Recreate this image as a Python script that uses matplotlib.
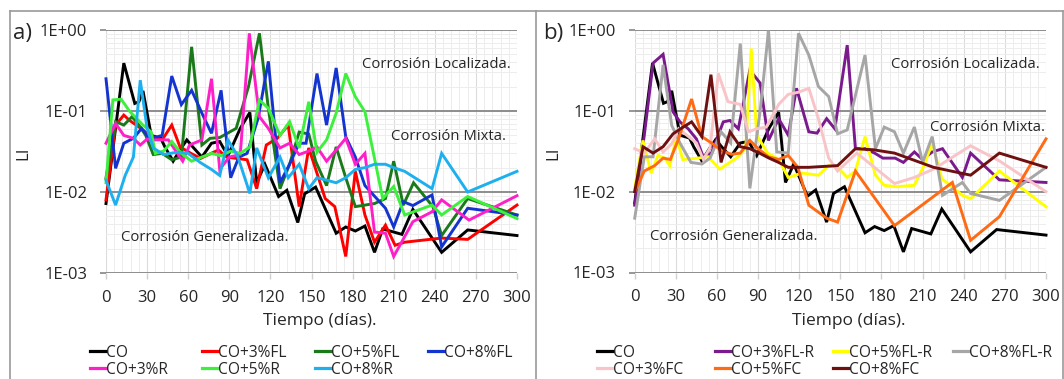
import numpy as np
import matplotlib
matplotlib.use("Agg")
import matplotlib.pyplot as plt
from matplotlib.ticker import FixedLocator, MultipleLocator, LogLocator, FuncFormatter, NullFormatter
from matplotlib.lines import Line2D

plt.rcParams['font.family'] = ['Open Sans', 'DejaVu Sans']

# ---------------- panel a) series ----------------
co_days = [0, 13, 21, 24, 27, 33, 40, 43, 49, 54, 59, 64, 70, 77, 83, 89, 98, 105, 110, 116,
           126, 132, 140, 145, 153, 168, 175, 182, 189, 196, 202, 216, 224, 245, 264, 300]
co_li = [0.0072, 0.39, 0.124, 0.13, 0.177, 0.05, 0.046, 0.036, 0.024, 0.033, 0.044, 0.035, 0.027,
         0.04, 0.042, 0.028, 0.061, 0.096, 0.013, 0.022, 0.0088, 0.0105, 0.0042, 0.0095, 0.0115,
         0.0031, 0.0037, 0.0033, 0.0038, 0.0018, 0.0035, 0.003, 0.0061, 0.0018, 0.0034, 0.0029]

fl3_days = [0, 7, 13, 17, 26, 32, 41, 48, 54, 62, 69, 82, 88, 95, 103, 110, 117, 125, 133, 141,
            148, 160, 167, 175, 182, 189, 196, 204, 211, 218, 245, 264, 300]
fl3_li = [0.008, 0.067, 0.089, 0.077, 0.06, 0.05, 0.044, 0.067, 0.036, 0.03, 0.026, 0.033, 0.027,
          0.026, 0.025, 0.011, 0.038, 0.046, 0.067, 0.0066, 0.035, 0.0083, 0.0066, 0.0016, 0.018,
          0.0052, 0.0024, 0.0039, 0.0022, 0.0024, 0.0027, 0.0026, 0.0069]

fl5_days = [0, 7, 13, 19, 24, 29, 34.5, 41, 48, 55, 62.5, 70, 76, 83, 95, 104, 112, 118.5, 127,
            134, 141, 148, 153, 161, 168, 175, 182, 196, 204, 210, 217, 224.5, 238.6, 245, 264, 300]
fl5_li = [0.015, 0.074, 0.067, 0.085, 0.067, 0.05, 0.029, 0.03, 0.025, 0.027, 0.62, 0.038, 0.046,
          0.047, 0.061, 0.2, 0.91, 0.108, 0.011, 0.022, 0.055, 0.052, 0.024, 0.012, 0.036, 0.015,
          0.0066, 0.0072, 0.0083, 0.024, 0.0069, 0.013, 0.0066, 0.0029, 0.0083, 0.0052]

fl8_days = [0, 7, 13, 20, 26, 32, 41, 48, 55, 62.5, 70, 77, 84, 91, 97, 103, 111, 118.5, 127, 134,
            141, 146, 154, 161, 168, 175, 182, 189, 204, 210, 217, 224, 238, 245, 264, 300]
fl8_li = [0.25, 0.0196, 0.04, 0.046, 0.061, 0.045, 0.05, 0.27, 0.12, 0.18, 0.094, 0.053, 0.18,
          0.015, 0.027, 0.03, 0.081, 0.41, 0.013, 0.022, 0.04, 0.04, 0.29, 0.067, 0.34, 0.048,
          0.027, 0.012, 0.0063, 0.0037, 0.0076, 0.0068, 0.0092, 0.0021, 0.0063, 0.0052]

r3_days = [0, 7, 13, 20, 25, 30, 34.5, 45.5, 56, 61, 70, 77, 83, 90, 98, 104.6, 112, 118.5, 127,
           134, 141, 148, 154, 161, 168, 175, 182, 189, 196, 204, 210, 224, 238, 245, 265, 300]
r3_li = [0.04, 0.07, 0.05, 0.046, 0.038, 0.045, 0.044, 0.044, 0.024, 0.038, 0.044, 0.25, 0.019,
         0.027, 0.029, 0.91, 0.085, 0.061, 0.035, 0.04, 0.029, 0.032, 0.036, 0.024, 0.033, 0.046,
         0.022, 0.030, 0.0032, 0.0031, 0.0016, 0.0043, 0.0057, 0.008, 0.0045, 0.009]

r5_days = [0, 5, 11, 17.5, 27, 33, 36, 42, 48, 55, 62.5, 70, 77, 84, 91, 98, 105, 112, 118.5, 127,
           134, 141, 148, 154, 161, 168, 175, 182, 189, 202, 210, 218, 238, 245, 264, 300]
r5_li = [0.013, 0.137, 0.14, 0.098, 0.067, 0.055, 0.03, 0.032, 0.042, 0.03, 0.024, 0.027, 0.030,
         0.028, 0.032, 0.03, 0.036, 0.137, 0.108, 0.05, 0.074, 0.035, 0.13, 0.031, 0.044, 0.094,
         0.29, 0.15, 0.098, 0.0083, 0.0117, 0.0052, 0.0069, 0.0052, 0.0088, 0.0047]

r8_days = [0, 7, 14, 20, 25, 30, 34.5, 42, 52, 60, 69, 77, 83, 89, 96, 105, 110, 118.5, 127, 133,
           141, 148, 154, 161, 168, 175, 182, 189, 196, 204, 210, 218, 238, 245, 264, 300]
r8_li = [0.014, 0.0069, 0.016, 0.027, 0.24, 0.061, 0.035, 0.029, 0.031, 0.03, 0.023, 0.019, 0.016,
         0.044, 0.028, 0.0096, 0.035, 0.015, 0.027, 0.015, 0.022, 0.011, 0.015, 0.014, 0.013,
         0.015, 0.019, 0.02, 0.022, 0.022, 0.02, 0.018, 0.011, 0.030, 0.010, 0.018]

# ---------------- panel b) series ----------------
flr3_days = [0, 7, 13.4, 20.7, 28, 33, 39, 45, 50, 56, 64.6, 69.5, 75.6, 84, 91.5, 97.6, 105, 112,
             118, 127, 133, 140, 146, 155, 161, 168, 175, 181, 190, 196, 204, 210, 217, 224.5, 239,
             245, 266, 300]
flr3_li = [0.0068, 0.05, 0.39, 0.50, 0.097, 0.073, 0.06, 0.045, 0.027, 0.03, 0.073, 0.076, 0.06,
           0.32, 0.22, 0.043, 0.08, 0.05, 0.19, 0.055, 0.053, 0.08, 0.06, 0.65, 0.034, 0.034, 0.03,
           0.026, 0.026, 0.023, 0.031, 0.025, 0.031, 0.034, 0.015, 0.03, 0.014, 0.013]

flr5_days = [0, 6, 12, 17, 22, 25.6, 30.5, 35, 46, 53.6, 62, 75.6, 81, 85, 89, 97, 105, 112, 122,
             134, 141.5, 148, 155, 161, 168, 175.6, 182, 190.5, 204, 211, 217, 224, 239, 245, 266, 300]
flr5_li = [0.011, 0.043, 0.017, 0.028, 0.026, 0.021, 0.048, 0.025, 0.026, 0.027, 0.019, 0.027,
           0.035, 0.59, 0.05, 0.03, 0.025, 0.015, 0.017, 0.016, 0.021, 0.02, 0.015, 0.018, 0.048,
           0.016, 0.012, 0.0115, 0.012, 0.021, 0.04, 0.0145, 0.009, 0.0082, 0.018, 0.0065]

flr8_days = [0, 7, 13.4, 20.7, 27, 33, 41, 49, 55, 63, 70, 77, 84, 91.5, 97.6, 103.6, 112, 119.5,
             127, 134, 141.5, 148, 155, 168, 175.6, 182, 189.5, 196, 204, 210, 217, 224.5, 239,
             245, 266, 300]
flr8_li = [0.0047, 0.027, 0.027, 0.37, 0.066, 0.04, 0.023, 0.022, 0.026, 0.055, 0.04, 0.68, 0.011,
           0.1, 0.98, 0.031, 0.03, 0.91, 0.49, 0.20, 0.15, 0.052, 0.058, 0.49, 0.034, 0.063, 0.055,
           0.03, 0.063, 0.023, 0.048, 0.009, 0.013, 0.0095, 0.0078, 0.020]

fc3_days = [0, 7, 14.6, 20.7, 27, 32, 38, 45, 50, 55, 61, 68, 77, 83, 89, 96, 105, 112, 119.5, 127,
            134, 141.5, 148, 162, 189.5, 204, 218, 245, 266, 300]
fc3_li = [0.034, 0.03, 0.045, 0.031, 0.039, 0.06, 0.05, 0.04, 0.025, 0.035, 0.29, 0.13, 0.12,
          0.055, 0.06, 0.063, 0.12, 0.16, 0.17, 0.19, 0.08, 0.026, 0.018, 0.03, 0.0126, 0.015,
          0.019, 0.037, 0.024, 0.010]

fc5_days = [0, 7, 14.6, 20.7, 26, 32, 41.5, 49, 56, 63.4, 70.7, 77, 84, 91, 97.6, 105, 112, 119,
            127, 140, 148, 161, 189.5, 231.7, 245, 266, 300]
fc5_li = [0.01, 0.018, 0.021, 0.026, 0.025, 0.045, 0.14, 0.048, 0.04, 0.032, 0.029, 0.03, 0.043,
          0.033, 0.027, 0.025, 0.028, 0.02, 0.0068, 0.0047, 0.0042, 0.018, 0.0038, 0.013, 0.0025,
          0.0049, 0.045]

fc8_days = [0, 6, 13.4, 20.7, 28, 35.4, 41.5, 49, 55.6, 63, 69.5, 77, 84, 91, 98, 105, 112, 119,
            127, 148, 161, 174, 189.5, 218, 245, 266, 300]
fc8_li = [0.01, 0.036, 0.030, 0.036, 0.052, 0.063, 0.073, 0.048, 0.28, 0.023, 0.055, 0.036, 0.034,
          0.03, 0.026, 0.023, 0.020, 0.020, 0.020, 0.021, 0.034, 0.033, 0.030, 0.020, 0.016,
          0.030, 0.020]

series_a = [
    ("CO", co_days, co_li, "#000000"),
    ("CO+3%FL", fl3_days, fl3_li, "#ff0000"),
    ("CO+5%FL", fl5_days, fl5_li, "#1a7a1a"),
    ("CO+8%FL", fl8_days, fl8_li, "#1434d0"),
    ("CO+3%R", r3_days, r3_li, "#ff1fc8"),
    ("CO+5%R", r5_days, r5_li, "#3cf03c"),
    ("CO+8%R", r8_days, r8_li, "#1eb0ee"),
]
series_b = [
    ("CO", co_days, co_li, "#000000"),
    ("CO+3%FL-R", flr3_days, flr3_li, "#7a1a8c"),
    ("CO+5%FL-R", flr5_days, flr5_li, "#ffff00"),
    ("CO+8%FL-R", flr8_days, flr8_li, "#a6a6a6"),
    ("CO+3%FC", fc3_days, fc3_li, "#f8c4c8"),
    ("CO+5%FC", fc5_days, fc5_li, "#ff6a14"),
    ("CO+8%FC", fc8_days, fc8_li, "#6e1010"),
]

x_ticks = [0, 30, 60, 90, 120, 150, 180, 210, 240, 270, 300]
y_ticks = [1e-3, 1e-2, 1e-1, 1e0]

W, H = 1064, 379
fig = plt.figure(figsize=(W / 100, H / 100), dpi=100)


def fx(px):
    return px / W


def fy(py):
    return 1 - py / H


TXT = "#262626"
GRID_MAJ = "#858585"


def style_axis(ax):
    ax.set_yscale("log")
    ax.set_xlim(0, 300)
    ax.set_ylim(1e-3, 1)
    for s in ax.spines.values():
        s.set_visible(False)
    ax.xaxis.set_major_locator(FixedLocator(x_ticks))
    ax.xaxis.set_minor_locator(MultipleLocator(6))
    ax.yaxis.set_major_locator(FixedLocator(y_ticks))
    ax.yaxis.set_minor_locator(LogLocator(base=10, subs=np.arange(2, 10)))
    ax.yaxis.set_minor_formatter(NullFormatter())
    ax.yaxis.set_major_formatter(FuncFormatter(lambda v, p: "1E%+03d" % int(round(np.log10(v)))))
    ax.grid(which="minor", axis="both", color="#ededed", lw=0.7)
    ax.grid(which="major", axis="x", color="#dcdcdc", lw=0.8)
    ax.grid(which="major", axis="y", color=GRID_MAJ, lw=1.3)
    ax.tick_params(axis="y", which="major", length=4.5, width=1.2, color=GRID_MAJ,
                   labelsize=12, labelcolor=TXT, pad=9)
    ax.tick_params(axis="x", which="major", length=4, width=1.0, color="#d0d0d0",
                   labelsize=12, labelcolor=TXT, pad=8)
    ax.tick_params(which="minor", length=0)
    ax.set_axisbelow(True)


def draw_panel(ax, series):
    style_axis(ax)
    for name, d, v, c in series:
        ax.plot(d, v, color=c, lw=2.1, solid_joinstyle="miter", clip_on=False, zorder=3)
    ax.text(241, 10 ** -0.43, "Corrosión Localizada.", ha="center", va="center",
            fontsize=10.7, color=TXT, zorder=5)


ax_a = fig.add_axes([fx(106), fy(273), (517 - 106) / W, (273 - 30) / H])
ax_b = fig.add_axes([fx(634.7), fy(272.5), (1046 - 634.7) / W, (272.5 - 30) / H])
draw_panel(ax_a, series_a)
draw_panel(ax_b, series_b)
ax_a.text(250, 10 ** -1.32, "Corrosión Mixta.", ha="center", va="center", fontsize=10.7, color=TXT, zorder=5)
ax_b.text(257, 10 ** -1.21, "Corrosión Mixta.", ha="center", va="center", fontsize=10.7, color=TXT, zorder=5)
for ax in (ax_a, ax_b):
    ax.text(72, 10 ** -2.56, "Corrosión Generalizada.", ha="center", va="center",
            fontsize=10.7, color=TXT, zorder=5)

# panel frames
frame = dict(color="#9a9a9a", lw=1.2, transform=fig.transFigure)
fig.add_artist(Line2D([fx(10), fx(1063)], [fy(11), fy(11)], **frame))
fig.add_artist(Line2D([fx(10), fx(10)], [fy(11), fy(379)], **frame))
fig.add_artist(Line2D([fx(536), fx(536)], [fy(11), fy(379)], **frame))
fig.add_artist(Line2D([fx(1063), fx(1063)], [fy(11), fy(379)], **frame))

# panel letters, axis titles
fig.text(fx(23), fy(33), "a)", fontsize=16, ha="center", va="center", color=TXT)
fig.text(fx(553), fy(33), "b)", fontsize=16, ha="center", va="center", color=TXT)
fig.text(fx(23), fy(153), "LI", fontsize=12, rotation=90, ha="center", va="center", color=TXT)
fig.text(fx(553), fy(153), "LI", fontsize=12, rotation=90, ha="center", va="center", color=TXT)
fig.text(fx(320), fy(321), "Tiempo (días).", fontsize=12.5, ha="center", va="center", color=TXT)
fig.text(fx(849), fy(321), "Tiempo (días).", fontsize=12.5, ha="center", va="center", color=TXT)


def legend(series, cols, rows):
    for i, (name, d, v, c) in enumerate(series):
        x0 = cols[i % 4]
        y0 = rows[i // 4]
        fig.add_artist(Line2D([fx(x0), fx(x0 + 16)], [fy(y0), fy(y0)], color=c, lw=2.3,
                              transform=fig.transFigure))
        fig.text(fx(x0 + 16), fy(y0), name, fontsize=11.2, ha="left", va="center_baseline",
                 color=TXT)


legend(series_a, [90, 202, 315, 428], [351, 368])
legend(series_b, [597, 715, 833, 953], [351, 368])

fig.savefig("out.png", dpi=100, facecolor="white")
